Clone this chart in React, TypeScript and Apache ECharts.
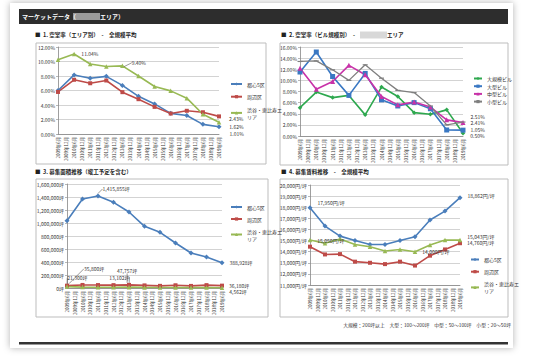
import React, { useEffect, useRef } from "react";
import * as echarts from "echarts";

const FONT = '"Noto Sans CJK JP", "Noto Sans", sans-serif';

const categories = [
  "2009年6月", "2009年12月", "2010年6月", "2010年12月", "2011年6月", "2011年12月",
  "2012年6月", "2012年12月", "2013年6月", "2013年12月", "2014年6月", "2014年12月",
  "2015年6月", "2015年12月", "2016年6月", "2016年12月", "2017年6月", "2017年12月",
  "2018年6月", "2018年12月", "2019年6月",
];

const areaNames = ["都心5区", "周辺区", "渋谷・恵比寿エリア"];
const sizeNames = ["大規模ビル", "大型ビル", "中型ビル", "小型ビル"];

// Chart 1: vacancy by area (%)
const c1Toshin = [6.0, 8.15, 7.7, 7.95, 6.7, 5.2, 4.15, 2.85, 2.55, 1.33, 1.01];
const c1Shuhen = [5.8, 7.48, 7.0, 7.38, 5.77, 4.8, 3.74, 2.82, 3.2, 3.0, 2.43];
const c1Shibuya = [10.25, 11.04, 9.65, 9.3, 9.4, 8.0, 6.55, 5.95, 4.94, 2.72, 1.62];

// Chart 2: vacancy by building size (%)
const c2Daikibo = [5.1, 7.9, 6.9, 7.3, 3.8, 8.8, 7.1, 4.2, 3.9, 4.7, 0.5];
const c2Ogata = [11.5, 15.1, 10.7, 7.3, 11.25, 6.5, 5.4, 6.0, 4.9, 1.08, 1.05];
const c2Chugata = [12.2, 8.4, 9.8, 12.7, 11.0, 7.1, 5.6, 6.1, 5.2, 2.9, 2.41];
const c2Kogata = [13.4, 13.5, 11.9, 10.0, 12.8, 10.4, 8.2, 7.8, 5.4, 2.0, 2.51];

// Chart 3: available floor area (坪)
const c3Toshin = [1036000, 1369000, 1415855, 1318000, 1169000, 949000, 856000, 692000, 538000, 477000, 388928];
const c3Shuhen = [35800, 47000, 45000, 44000, 47757, 40000, 33000, 42000, 32000, 44000, 36180];
const c3Shibuya = [21300, 14000, 12000, 11000, 13102, 9000, 7000, 8000, 6000, 7000, 4562];

// Chart 4: asking rent (円/坪)
const c4Toshin = [17950, 16300, 15400, 15000, 14650, 14650, 15000, 15350, 16850, 17650, 18862];
const c4Shuhen = [14450, 13750, 13780, 13100, 13000, 12880, 13100, 12750, 13640, 14200, 14760];
const c4Shibuya = [15050, 14750, 15140, 14650, 14450, 14060, 14200, 14000, 14600, 15050, 15043];

const BLUE = "#4a7ebb";
const RED = "#be4b48";
const GREEN = "#98b954";
const G2 = "#2ea84f";
const B2 = "#3a78c3";
const M2 = "#c832a8";
const GR2 = "#7f7f7f";

type Lb = { t: string; dx: number; dy: number; line?: boolean };

function expand(vals: number[], labels: Record<number, Lb> = {}) {
  const out: any[] = [];
  vals.forEach((v, i) => {
    const l = labels[i];
    if (l) {
      out.push({
        value: v,
        label: { show: true, formatter: l.t },
        labelLine: { show: !!l.line, lineStyle: { color: "#555", width: 0.6 } },
      });
    } else out.push(v);
    if (i < vals.length - 1) out.push("-");
  });
  return out;
}

function mkSeries(
  name: string, idx: number, vals: number[], color: string, symbol: any,
  symbolSize: any, labels: Record<number, Lb> = {}, width = 1.6
) {
  return {
    type: "line", name, xAxisIndex: idx, yAxisIndex: idx,
    data: expand(vals, labels), connectNulls: true,
    symbol, symbolSize, showAllSymbol: true,
    lineStyle: { color, width },
    itemStyle: { color },
    label: { show: false, position: "right", fontSize: 5, color: "#333", fontFamily: FONT },
    labelLayout: (p: any) => {
      const l = labels[p.dataIndex / 2];
      return l ? { dx: l.dx, dy: l.dy } : {};
    },
    emphasis: { disabled: true },
  };
}

const fmt = (v: number) => v.toLocaleString("en-US");

function xAxis(idx: number) {
  return {
    type: "category", gridIndex: idx, data: categories, boundaryGap: false,
    axisLine: { lineStyle: { color: "#868686", width: 0.8 } },
    axisTick: { show: false },
    axisLabel: { rotate: 90, interval: 0, fontSize: 4.5, color: "#333", margin: 3, fontFamily: FONT },
  };
}

function yAxis(idx: number, min: number, max: number, interval: number, fm: (v: number) => string) {
  return {
    type: "value", gridIndex: idx, min, max, interval,
    axisLine: { show: true, lineStyle: { color: "#868686", width: 0.8 } },
    axisTick: { show: true, length: 2, lineStyle: { color: "#868686", width: 0.6 } },
    splitLine: { lineStyle: { color: "#c8c8c8", width: 0.8 } },
    axisLabel: { fontSize: 5, color: "#333", margin: 3, formatter: fm, fontFamily: FONT },
  };
}

function legend(data: string[], left: number, top: number, itemGap: number, itemWidth: number) {
  return {
    data, left, top, orient: "vertical", itemGap, itemWidth, itemHeight: 4,
    selectedMode: false,
    textStyle: { fontSize: 5, color: "#333", lineHeight: 7, fontFamily: FONT },
    formatter: (n: string) => (n === "渋谷・恵比寿エリア" ? "渋谷・恵比寿エ\nリア" : n),
  };
}

function txt(x: number, y: number, text: string, size = 5.5, color = "#222", weight = "bold", align = "left") {
  return {
    type: "text", x, y,
    style: { text, fontSize: size, fill: color, fontWeight: weight, fontFamily: FONT, align, verticalAlign: "middle" },
    silent: true,
  };
}

function box(x: number, y: number, w: number, h: number) {
  return {
    type: "rect", shape: { x, y, width: w, height: h },
    style: { fill: "#fff", stroke: "#bdbdbd", lineWidth: 1 }, z: -5, silent: true,
  };
}

export default function App() {
  const ref = useRef<HTMLDivElement>(null);
  useEffect(() => {
    if (!ref.current) return;
    const chart = echarts.init(ref.current, undefined, { renderer: "svg" });
    const option: any = {
      animation: false,
      backgroundColor: "#ffffff",
      textStyle: { fontFamily: FONT },
      graphic: [
        {
          type: "rect", shape: { x: 10, y: 3, width: 503, height: 345 }, z: -20,
          style: { fill: "#fff", shadowBlur: 7, shadowColor: "rgba(0,0,0,0.3)" }, silent: true,
        },
        { type: "rect", shape: { x: 19, y: 9, width: 489, height: 15 }, style: { fill: "#2d2d2d" }, z: -4, silent: true },
        txt(22, 16.5, "マーケットデータ（", 6, "#fff"),
        { type: "rect", shape: { x: 73, y: 13, width: 27, height: 7 }, style: { fill: "#9a9a9a" }, z: -3, silent: true },
        txt(100, 16.5, "エリア）", 6, "#fff"),
        txt(35, 35, "■  1. 空室率（エリア別）　-　全規模平均"),
        txt(281, 35, "■  2. 空室率（ビル規模別）　-　"),
        { type: "rect", shape: { x: 360, y: 31.5, width: 27, height: 7 }, style: { fill: "#d8d8d8" }, z: -3, silent: true },
        txt(387, 35, "エリア"),
        txt(35, 172, "■  3. 募集面積推移（竣工予定を含む）"),
        txt(281, 172, "■  4. 募集賃料推移　-　全規模平均"),
        box(36, 43, 230, 121),
        box(280, 43, 228, 122),
        box(36, 179, 232, 138),
        box(280, 179, 228, 138),
        txt(511, 324, "大規模：200坪以上　大型：100〜200坪　中型：50〜100坪　小型：20〜50坪", 4.8, "#333", "normal", "right"),
        { type: "rect", shape: { x: 19, y: 342, width: 489, height: 2.5 }, style: { fill: "#333" }, z: -4, silent: true },
      ],
      grid: [
        { left: 58, top: 47, width: 161, height: 87 },
        { left: 300, top: 47, width: 163, height: 89 },
        { left: 67, top: 184, width: 155, height: 104 },
        { left: 310, top: 185, width: 150, height: 100 },
      ],
      xAxis: [xAxis(0), xAxis(1), xAxis(2), xAxis(3)],
      yAxis: [
        yAxis(0, 0, 12, 2, (v) => v.toFixed(2) + "%"),
        yAxis(1, 0, 16, 2, (v) => v.toFixed(2) + "%"),
        yAxis(2, 0, 1600000, 200000, (v) => fmt(v) + "坪"),
        yAxis(3, 11000, 20000, 1000, (v) => fmt(v) + "円/坪"),
      ],
      legend: [
        legend(areaNames, 225, 75.5, 5.7, 11),
        legend(sizeNames, 468, 70, 0.7, 8),
        legend(areaNames, 225, 198.5, 5, 11),
        { ...legend(areaNames, 465, 251, 5.2, 8) },
      ],
      series: [
        mkSeries("都心5区", 0, c1Toshin, BLUE, "diamond", 5, { 10: { t: "1.01%", dx: 3, dy: 7 } }),
        mkSeries("周辺区", 0, c1Shuhen, RED, "rect", 4, { 10: { t: "2.43%", dx: 3, dy: 2.5 } }),
        mkSeries("渋谷・恵比寿エリア", 0, c1Shibuya, GREEN, "triangle", 4.5, {
          1: { t: "11.04%", dx: 0, dy: 0 },
          4: { t: "9.40%", dx: 2, dy: -3, line: true },
          10: { t: "1.62%", dx: 3, dy: 4.5 },
        }),

        mkSeries("大規模ビル", 1, c2Daikibo, G2, "diamond", 4.5, { 10: { t: "0.50%", dx: 0, dy: 2 } }),
        mkSeries("大型ビル", 1, c2Ogata, B2, "rect", 5, { 10: { t: "1.05%", dx: 0, dy: -1 } }),
        mkSeries("中型ビル", 1, c2Chugata, M2, "triangle", 5, { 10: { t: "2.41%", dx: 0, dy: 0 } }),
        mkSeries("小型ビル", 1, c2Kogata, GR2, "rect", [5, 1.2], { 10: { t: "2.51%", dx: 0, dy: -6 } }, 1.3),

        mkSeries("都心5区", 2, c3Toshin, BLUE, "diamond", 5, {
          2: { t: "1,415,855坪", dx: -3, dy: -7, line: true },
          10: { t: "388,928坪", dx: 0, dy: 0 },
        }),
        mkSeries("周辺区", 2, c3Shuhen, RED, "rect", 4, {
          0: { t: "35,800坪", dx: 10, dy: -17, line: true },
          4: { t: "47,757坪", dx: -19, dy: -14, line: true },
          10: { t: "36,180坪", dx: 0, dy: 0 },
        }),
        mkSeries("渋谷・恵比寿エリア", 2, c3Shibuya, GREEN, "triangle", 4.5, {
          0: { t: "21,300坪", dx: -7, dy: -9, line: true },
          4: { t: "13,102坪", dx: -27, dy: -10, line: true },
          10: { t: "4,562坪", dx: 0, dy: 4 },
        }),

        mkSeries("都心5区", 3, c4Toshin, BLUE, "diamond", 5, {
          0: { t: "17,950円/坪", dx: 0, dy: -5 },
          10: { t: "18,862円/坪", dx: 0, dy: -2.5 },
        }),
        mkSeries("周辺区", 3, c4Shuhen, RED, "rect", 4, { 10: { t: "14,760円/坪", dx: 0, dy: -1 } }),
        mkSeries("渋谷・恵比寿エリア", 3, c4Shibuya, GREEN, "triangle", 4.5, {
          0: { t: "15,050円/坪", dx: 0, dy: 0 },
          7: { t: "14,000円/坪", dx: 0, dy: 0 },
          10: { t: "15,043円/坪", dx: 0, dy: -4 },
        }),
      ],
    };
    chart.setOption(option);
    return () => chart.dispose();
  }, []);
  return (
    <div
      ref={ref}
      style={{ position: "absolute", left: 0, top: 0, width: 536, height: 357 }}
    />
  );
}
